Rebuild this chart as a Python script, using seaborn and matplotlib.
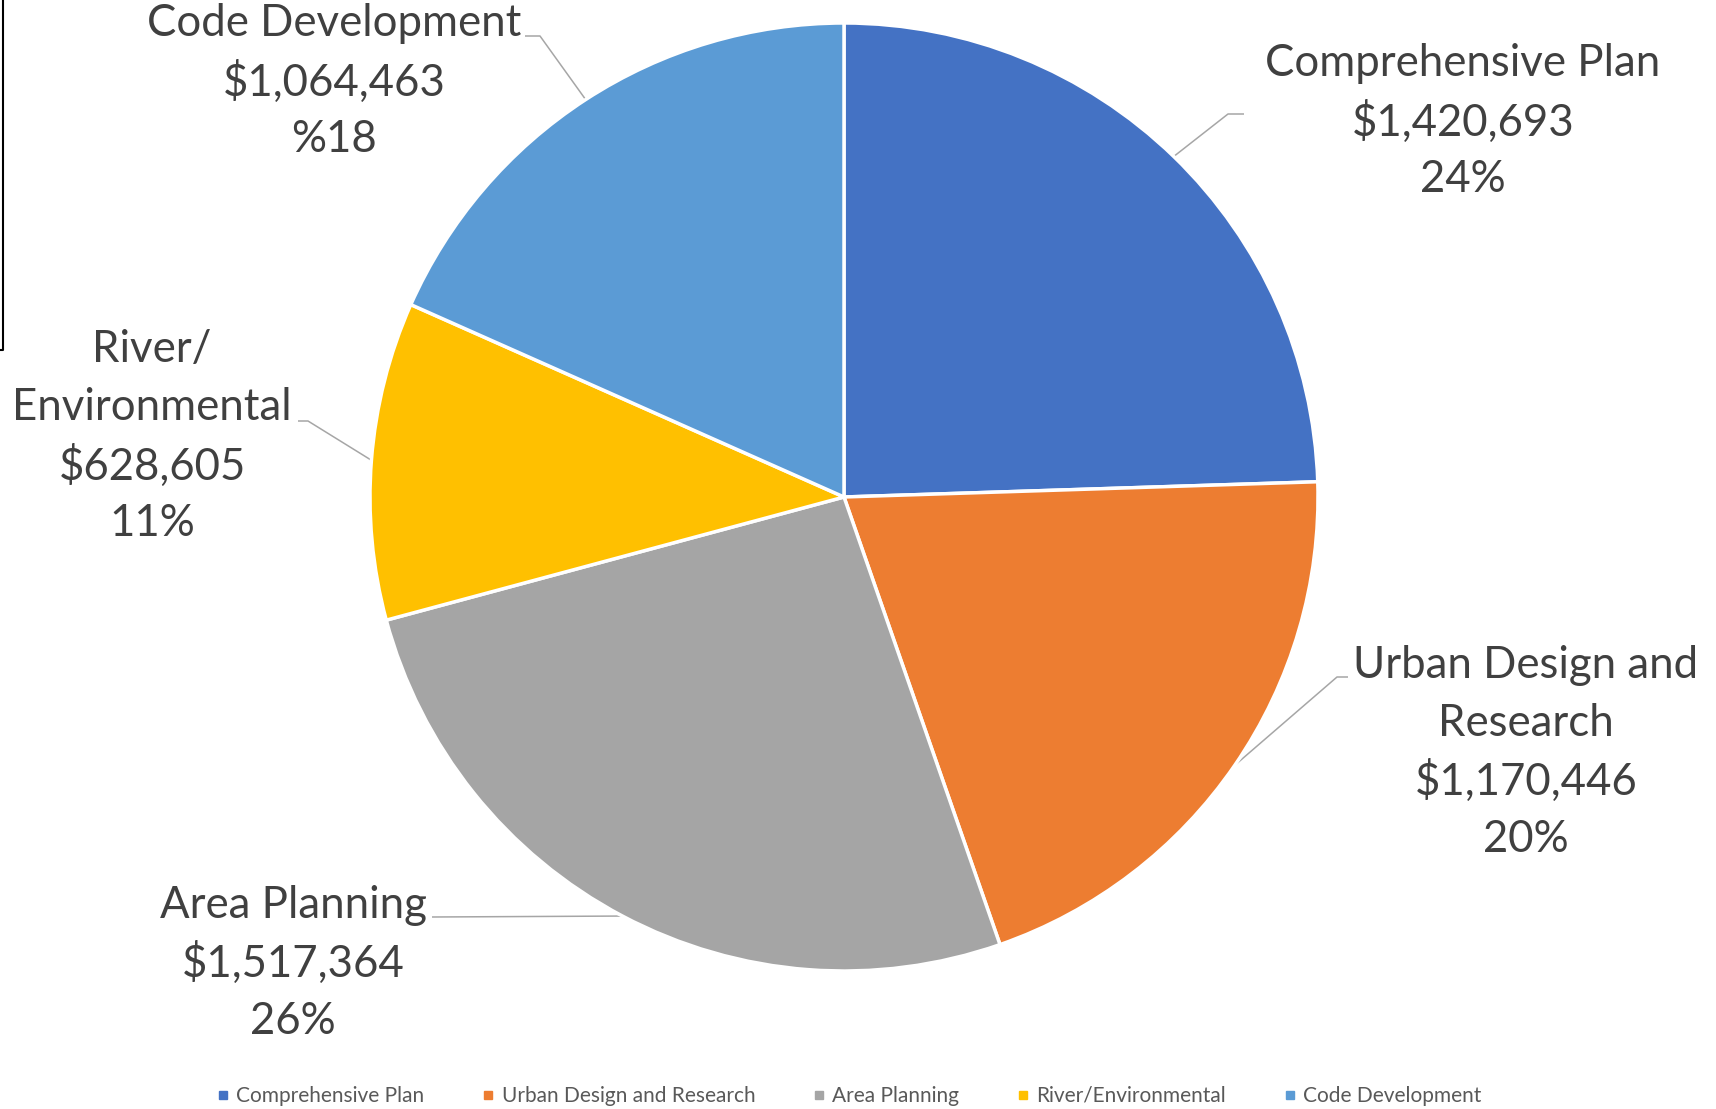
import matplotlib
matplotlib.use("Agg")
import matplotlib.pyplot as plt
import seaborn as sns
import numpy as np
from matplotlib.lines import Line2D

# ---- data ----
categories = ["Comprehensive Plan", "Urban Design and Research", "Area Planning",
              "River/Environmental", "Code Development"]
label_names = [["Comprehensive Plan"], ["Urban Design and", "Research"], ["Area Planning"],
               ["River/", "Environmental"], ["Code Development"]]
values = [1420693, 1170446, 1517364, 628605, 1064463]
pct_formats = ["{}%", "{}%", "{}%", "{}%", "%{}"]
colors = ["#4472C4", "#ED7D31", "#A5A5A5", "#FFC000", "#5B9BD5"]

W, H = 1716, 1109
sns.set_theme(style="white")
plt.rcParams['font.family'] = ['Lato', 'DejaVu Sans']

fig = plt.figure(figsize=(W / 100, H / 100), dpi=100)
ax = fig.add_axes([0, 0, 1, 1])

cx, cy, R = 844, H - 497, 474
palette = sns.color_palette(colors)
wedges, _ = ax.pie(values, colors=palette, startangle=90, counterclock=False,
                   center=(cx, cy), radius=R,
                   wedgeprops=dict(edgecolor="white", linewidth=2.5))
ax.set_xlim(0, W)
ax.set_ylim(0, H)
ax.set_aspect("equal")
ax.axis("off")

total = sum(values)
text_color = "#404040"
lead_color = "#A6A6A6"
fs = 31.5
step = 58

# label layout (pixel coordinates from top): center x, first line center y, elbow points
label_pos = [(1463, 64), (1526, 665), (293, 905), (152, 350), (334, 24)]
elbows = [[(1244, 114), (1228, 114)],
          [(1348, 677), (1337, 677)],
          [(432, 917)],
          [(298, 421), (308, 421)],
          [(525, 36), (540, 36)]]

for i, w in enumerate(wedges):
    pct = int(round(values[i] / total * 100))
    lines = label_names[i] + ["${:,}".format(values[i]), pct_formats[i].format(pct)]
    x0, y0 = label_pos[i]
    for k, ln in enumerate(lines):
        ax.text(x0, H - (y0 + k * step), ln, ha="center", va="center",
                fontsize=fs, color=text_color)
    mid = np.deg2rad((w.theta1 + w.theta2) / 2)
    ex, ey = cx + R * np.cos(mid), cy + R * np.sin(mid)
    pts = [(x, H - y) for x, y in elbows[i]] + [(ex, ey)]
    ax.plot([p[0] for p in pts], [p[1] for p in pts], color=lead_color, lw=1.1,
            solid_capstyle="butt", zorder=0.5)

# stray border corner on the left
ax.plot([3, 3, 0], [H, H - 350, H - 350], color="black", lw=1.5, clip_on=False)

handles = [Line2D([], [], marker="s", linestyle="none", markersize=6,
                  markerfacecolor=c, markeredgecolor=c) for c in colors]
leg = fig.legend(handles, categories, loc="center", ncol=5,
                 bbox_to_anchor=(849 / W, 1 - 1096 / H), frameon=False,
                 fontsize=15, handlelength=0.6, handletextpad=0.35,
                 columnspacing=2.75, labelcolor="#595959")

fig.savefig("out.png", dpi=100)
